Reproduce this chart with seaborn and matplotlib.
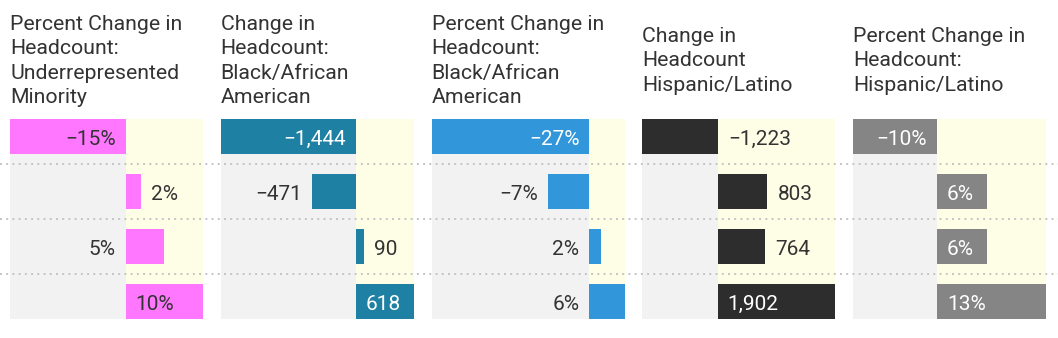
import matplotlib
matplotlib.use("Agg")
import matplotlib.pyplot as plt
import matplotlib.transforms as mtransforms
from matplotlib.lines import Line2D
import seaborn as sns
import pandas as pd

# ---------------- data ----------------
rows = ["Row 1", "Row 2", "Row 3", "Row 4"]
titles = [
    "Percent Change in\nHeadcount:\nUnderrepresented\nMinority",
    "Change in\nHeadcount:\nBlack/African\nAmerican",
    "Percent Change in\nHeadcount:\nBlack/African\nAmerican",
    "Change in\nHeadcount\nHispanic/Latino",
    "Percent Change in\nHeadcount:\nHispanic/Latino",
]
urm_pct = [-15, 2, 5, 10]
black_change = [-1444, -471, 90, 618]
black_pct = [-27, -7, 2, 6]
hisp_change = [-1223, 803, 764, 1902]
hisp_pct = [-10, 6, 6, 13]
series = [urm_pct, black_change, black_pct, hisp_change, hisp_pct]
is_pct = [True, False, True, False, True]

# ---------------- styles ----------------
bar_colors = ["#ff77ff", "#1e80a2", "#3196da", "#2d2d2d", "#858585"]
inside_text = ["#333333", "#ffffff", "#ffffff", "#ffffff", "#ffffff"]
placements = [
    ["in", "out", "opp", "in"],
    ["in", "out", "out", "in"],
    ["in", "out", "opp", "opp"],
    ["opp", "out", "out", "in"],
    ["in", "in", "in", "in"],
]
DARK = "#333333"
NEG_BG = "#f2f2f2"
POS_BG = "#fefee6"

sns.set_style("white")
plt.rcParams["font.family"] = ["Roboto", "DejaVu Sans"]

W, H = 1058, 338
fig = plt.figure(figsize=(W / 100, H / 100), dpi=100)
fig.patch.set_facecolor("white")

PAD = 10 * 72 / 100  # 10 px in points
FS_VAL = 15.0
FS_TITLE = 15.3

def fmt(v, pct):
    s = f"{abs(v):,}" + ("%" if pct else "")
    return ("\u2212" + s) if v < 0 else s

axes = []
for k, vals in enumerate(series):
    left = 10 + k * 210.75
    ax = fig.add_axes([left / W, 19 / H, 193 / W, 200 / H])
    axes.append(ax)
    df = pd.DataFrame({"row": rows, "value": vals})
    sns.barplot(data=df, x="value", y="row", orient="h", color=bar_colors[k],
                saturation=1, width=35 / 55, linewidth=0, ax=ax, zorder=2)
    xmin, xmax = min(vals), max(vals)
    ax.set_xlim(xmin, xmax)
    ax.set_ylim(3 + 0.5 * 35 / 55, -0.5 * 35 / 55)
    ax.axvspan(xmin, 0, color=NEG_BG, lw=0, zorder=0)
    ax.axvspan(0, xmax, color=POS_BG, lw=0, zorder=0)
    ax.axis("off")

    for i, v in enumerate(vals):
        p = placements[k][i]
        col = DARK
        if p == "in":
            x, ha, dx = 0, ("left" if v > 0 else "right"), (PAD if v > 0 else -PAD)
            col = inside_text[k]
        elif p == "out":
            x, ha, dx = v, ("left" if v > 0 else "right"), (PAD if v > 0 else -PAD)
        else:
            x, ha, dx = 0, ("right" if v > 0 else "left"), (-PAD if v > 0 else PAD)
        ax.annotate(fmt(v, is_pct[k]), xy=(x, i), xytext=(dx, -1),
                    textcoords="offset points", ha=ha, va="center_baseline",
                    fontsize=FS_VAL, color=col, zorder=5)

    tr = mtransforms.blended_transform_factory(ax.transAxes, fig.transFigure)
    ax.text(0, 1 - 61 / H, titles[k], transform=tr, ha="left", va="center",
            fontsize=FS_TITLE, color=DARK, linespacing=1.37)

# dotted separators across the whole figure
ax0 = axes[0]
trs = mtransforms.blended_transform_factory(fig.transFigure, ax0.transData)
for y in [0.5, 1.5, 2.5]:
    fig.add_artist(Line2D([0, 1], [y, y], transform=trs, color="#c4c4c4",
                          lw=1.4, linestyle=(0, (1, 2.2)), zorder=3))

fig.savefig("out.png", dpi=100, facecolor="white")
